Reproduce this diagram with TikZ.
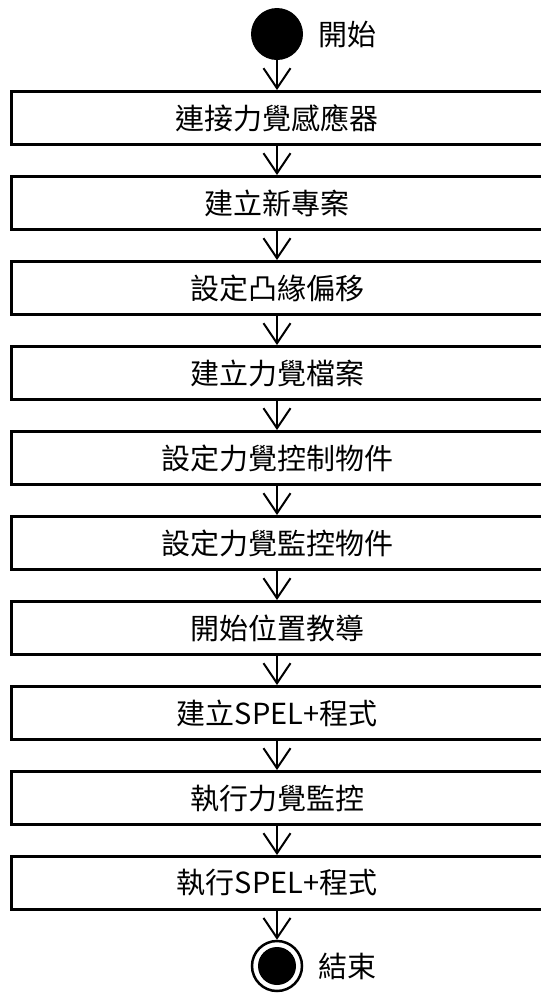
\documentclass[tikz,border=0pt]{standalone}
\usepackage{fontspec}
\setmainfont{Noto Sans CJK TC}
\usepackage{tikz}
\usetikzlibrary{arrows.meta, positioning}

\begin{document}
\begin{tikzpicture}[
    x=1pt, y=-1pt,
    every node/.style={font=\fontsize{29}{34}\selectfont, align=center},
    stepbox/.style={rectangle, draw, line width=3pt, minimum width=532pt, minimum height=53pt, inner sep=0pt},
    lbl/.style={anchor=west, inner sep=0pt},
    arr/.style={-{Straight Barb[length=20pt, width=27pt, line width=2pt]}, line width=2pt}
  ]
    \useasboundingbox (0,0) rectangle (541,994);

    % start
    \node[circle, fill=black, minimum size=52pt, inner sep=0pt] (start) at (277,34) {};
    \node[lbl] (startlbl) at ([xshift=15pt]start.east) {開始};

    % steps
    \foreach \i/\txt in {1/連接力覺感應器, 2/建立新專案, 3/設定凸緣偏移, 4/建立力覺檔案,
                         5/設定力覺控制物件, 6/設定力覺監控物件, 7/開始位置教導,
                         8/建立SPEL+程式, 9/執行力覺監控, 10/執行SPEL+程式} {
      \node[stepbox] (s\i) at (277,{118+85*(\i-1)}) {\txt};
    }

    % end
    \node[circle, draw, line width=2.5pt, minimum size=50pt, inner sep=0pt] (end) at (277,966) {};
    \node[circle, fill=black, minimum size=38pt, inner sep=0pt] (endc) at (end.center) {};
    \node[lbl] (endlbl) at ([xshift=15pt]end.east) {結束};

    % flow
    \draw[arr] (start.south) -- (s1.north);
    \foreach \i [evaluate=\i as \j using int(\i+1)] in {1,...,9} {
      \draw[arr] (s\i.south) -- (s\j.north);
    }
    \draw[arr] (s10.south) -- (end.north);
  \end{tikzpicture}
\end{document}
